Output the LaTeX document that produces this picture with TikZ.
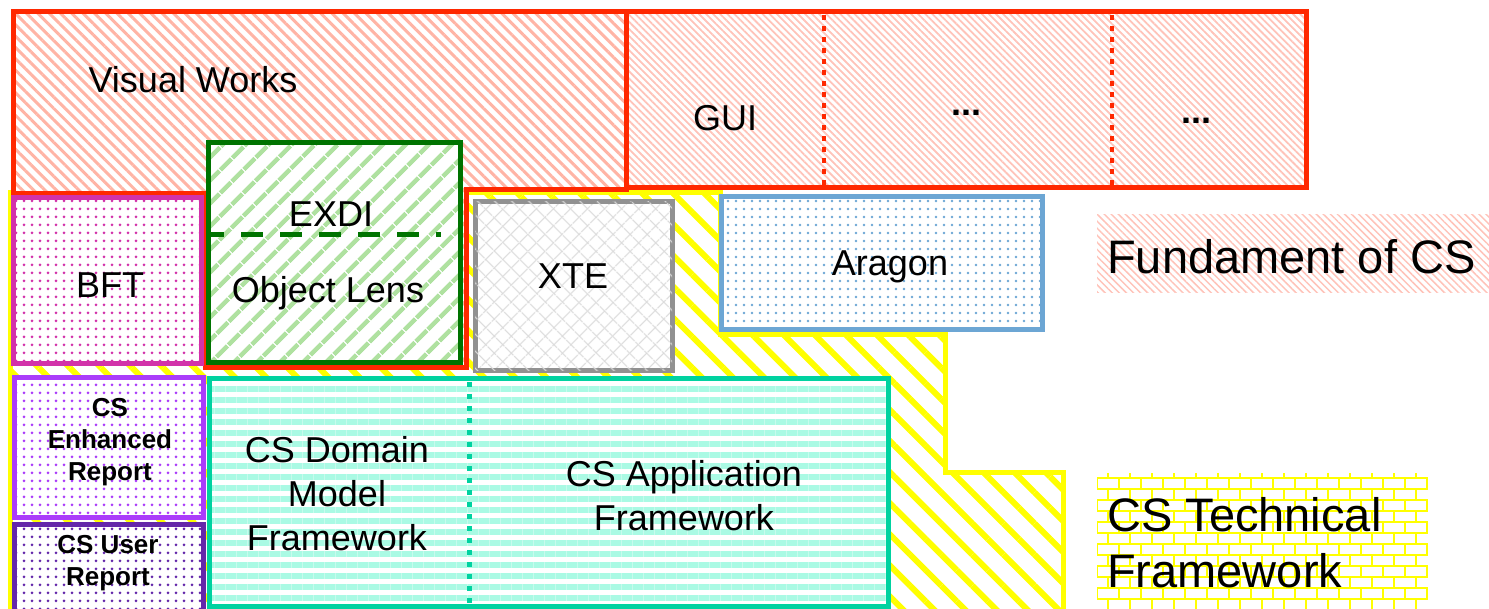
\documentclass[tikz,border=0pt]{standalone}
\usepackage{fontspec}
\setmainfont{Liberation Sans}
\usetikzlibrary{patterns, patterns.meta, positioning}

\definecolor{vwRed}{RGB}{255,40,0}
\definecolor{vwPink}{RGB}{255,180,165}
\definecolor{guiPink}{RGB}{255,195,185}
\definecolor{exdiGreen}{RGB}{0,115,0}
\definecolor{exdiLight}{RGB}{175,225,160}
\definecolor{bftMagenta}{RGB}{210,50,170}
\definecolor{xteGray}{RGB}{145,145,145}
\definecolor{xteLight}{RGB}{218,218,218}
\definecolor{aragonBlue}{RGB}{108,166,212}
\definecolor{reportPurple}{RGB}{170,60,250}
\definecolor{userPurple}{RGB}{100,40,170}
\definecolor{csTeal}{RGB}{0,210,160}
\definecolor{csLight}{RGB}{170,250,228}
\definecolor{techYellow}{RGB}{255,255,0}

\tikzset{
  boxline/.style={line width=5pt, line join=miter, preaction={fill=white}},
  bigtext/.style={font=\fontsize{36}{44}\selectfont, align=center, inner sep=0pt},
  smallbold/.style={font=\fontsize{26}{32}\selectfont\bfseries, align=center, inner sep=0pt},
  legendtext/.style={font=\fontsize{47}{56}\selectfont, align=left, anchor=west, inner sep=0pt},
}

\begin{document}
\begin{tikzpicture}[x=1pt, y=-1pt]
        % --- sizes ---
        \def\vwBottom{190}
        \def\midLine{368}
        \useasboundingbox (0,0) rectangle (1489,609);

        % --- CS Technical Framework (yellow staircase, behind everything) ---
        \draw[boxline, draw=techYellow, pattern={Lines[angle=-45,distance=22pt,line width=6pt]}, pattern color=techYellow]
            (10,193) -- (720,193) -- (720,335) -- (945,335) -- (945,472) -- (1063,472) -- (1063,620) -- (10,620) -- cycle;

        % --- Visual Works (L shape) ---
        \draw[boxline, draw=vwRed, pattern={Lines[angle=-45,distance=8pt,line width=3pt]}, pattern color=vwPink]
            (13,12) -- (626,12) -- (626,\vwBottom) -- (466,\vwBottom) -- (466,\midLine) -- (205,\midLine) -- (205,194) -- (13,194) -- cycle;
        \node[bigtext] (vw) at (193,80) {Visual Works};

        % --- GUI row ---
        \draw[boxline, draw=vwRed, pattern={Lines[angle=-45,distance=5pt,line width=1.8pt]}, pattern color=guiPink]
            (626,12) rectangle (1306,188);
        \foreach \x in {824,1112}
            \draw[vwRed, line width=4pt, dash pattern=on 5pt off 6pt] (\x,15) -- (\x,186);
        \node[bigtext] (gui) at (725,118) {GUI};
        \node[bigtext, anchor=base] (moreA) at (966,116) {\textbf{...}};
        \node[bigtext, anchor=base] (moreB) at (1196,124) {\textbf{...}};

        % --- BFT ---
        \draw[boxline, draw=bftMagenta, pattern={Dots[distance=8pt,radius=1.5pt]}, pattern color=bftMagenta]
            (13,198) rectangle (201,364);
        \node[bigtext] (bft) at (110,285) {BFT};

        % --- EXDI / Object Lens ---
        \draw[boxline, draw=exdiGreen, pattern={Lines[angle=45,distance=17pt,line width=5pt]}, pattern color=exdiLight]
            (208,143) rectangle (460,363);
        \draw[exdiGreen, line width=5pt, dash pattern=on 22pt off 17pt, dash phase=8pt] (210,235) -- (441,235);
        \node[bigtext] (exdi) at (331,214) {EXDI};
        \node[bigtext] (lens) at (328,293) {Object Lens};

        % --- XTE ---
        \draw[boxline, draw=xteGray, pattern={Lines[angle=45,distance=13pt,line width=1.2pt]}, pattern color=xteLight,
              postaction={pattern={Lines[angle=-45,distance=13pt,line width=1.2pt]}, pattern color=xteLight}]
            (475,202) rectangle (672,371);
        \node[bigtext] (xte) at (573,276) {XTE};

        % --- Aragon ---
        \draw[boxline, draw=aragonBlue, pattern={Dots[distance=8pt,radius=1.3pt]}, pattern color=aragonBlue]
            (721,197) rectangle (1042,330);
        \node[bigtext] (aragon) at (890,267) {Aragon};

        % --- reports ---
        \draw[boxline, draw=reportPurple, pattern={Dots[distance=8pt,radius=1.5pt]}, pattern color=reportPurple]
            (14,378) rectangle (203,517);
        \node[smallbold] (enhanced) at (110,442) {CS\\Enhanced\\Report};
        \draw[boxline, draw=userPurple, pattern={Dots[distance=8pt,radius=1.5pt]}, pattern color=userPurple]
            (14,524) rectangle (203,612);
        \node[smallbold] (user) at (108,563) {CS User\\Report};

        % --- CS frameworks ---
        \draw[boxline, draw=csTeal, pattern={Lines[angle=0,distance=11pt,line width=6pt]}, pattern color=csLight]
            (209,379) rectangle (888,606);
        \draw[csTeal, line width=5pt, dash pattern=on 5pt off 7pt] (469,382) -- (469,604);
        \node[bigtext] (domain) at (337,494) {CS Domain\\Model\\Framework};
        \node[bigtext] (app) at (684,496) {CS Application\\Framework};

        % --- legend ---
        \fill[pattern={Lines[angle=-45,distance=5pt,line width=1.5pt]}, pattern color=guiPink] (1097,215) rectangle (1489,293);
        \node[legendtext] (fundament) at (1107,257) {Fundament of CS};

        \begin{scope}
            \clip (1097,473) rectangle (1428,612);
            \foreach \k in {0,...,12} {
                \pgfmathsetmacro\yy{478+11*\k}
                \pgfmathsetmacro\off{mod(\k,2)*11}
                \draw[techYellow, line width=2pt] (1097,\yy) -- (1428,\yy);
                \foreach \j in {0,...,15}
                    \draw[techYellow, line width=2pt] (1097+\off+22*\j,\yy) -- ++(0,11);
            }
            \foreach \j in {0,...,15}
                \draw[techYellow, line width=2pt] (1108+22*\j,473) -- ++(0,5);
        \end{scope}
        \node[legendtext] (technical) at (1107,543) {CS Technical\\Framework};
\end{tikzpicture}
\end{document}
